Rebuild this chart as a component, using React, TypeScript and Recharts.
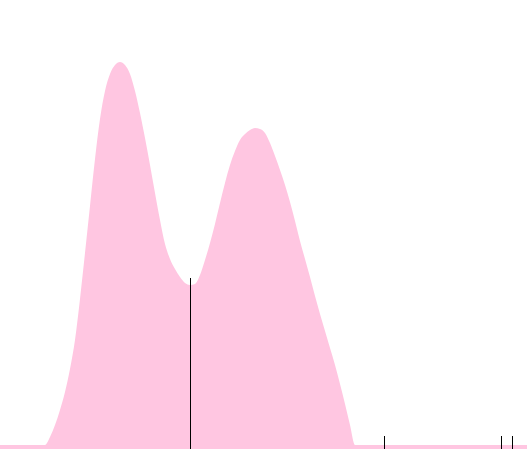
import { AreaChart, Area, XAxis, YAxis, ReferenceLine } from 'recharts';

// density estimate
const xs = [
  0, 0.9, 1.0, 1.1, 1.2, 1.3, 1.4, 1.5, 1.6, 1.7, 1.8, 1.9, 2.0, 2.1, 2.2, 2.3, 2.4, 2.5, 2.6, 2.7, 2.8, 2.9,
  3.0, 3.1, 3.2, 3.3, 3.4, 3.5, 3.6, 3.7, 3.8, 3.9, 4.0, 4.1, 4.2, 4.3, 4.4, 4.5, 4.6, 4.7, 4.8, 4.9,
  5.0, 5.1, 5.2, 5.3, 5.4, 5.5, 5.6, 5.7, 5.8, 5.9, 6.0, 6.1, 6.2, 6.3, 6.4, 6.5, 6.6, 6.7, 6.8, 6.9,
  7.0, 7.1, 10.54,
];
const density = [
  0.004, 0.004, 0.012, 0.024, 0.039, 0.057, 0.08, 0.109, 0.15, 0.196, 0.243, 0.29, 0.33, 0.358, 0.375, 0.384, 0.387, 0.384, 0.375, 0.358, 0.336, 0.311,
  0.284, 0.256, 0.229, 0.205, 0.19, 0.18, 0.172, 0.166, 0.164, 0.165, 0.174, 0.189, 0.206, 0.225, 0.246, 0.266, 0.284, 0.298, 0.309, 0.315,
  0.319, 0.321, 0.32, 0.316, 0.306, 0.293, 0.279, 0.264, 0.247, 0.228, 0.208, 0.19, 0.172, 0.153, 0.135, 0.118, 0.101, 0.084, 0.065, 0.045,
  0.024, 0.004, 0.004,
];

// marker line and rug ticks
const markerX = 3.81;
const markerTop = 0.171;
const rugX = [7.69, 10.03, 10.25];
const rugTop = 0.013;

const data = xs.map((x, i) => ({ x, y: density[i] }));

export default function App() {
  return (
    <div style={{ position: 'absolute', left: 0, top: 0, background: '#fff' }}>
      <AreaChart width={527} height={450} data={data} margin={{ top: 0, right: 0, bottom: 1, left: 0 }}>
        <XAxis dataKey="x" type="number" domain={[0, 10.54]} hide />
        <YAxis type="number" domain={[0, 0.449]} hide />
        <Area
          type="monotone"
          dataKey="y"
          stroke="none"
          fill="#ffc6e1"
          fillOpacity={1}
          isAnimationActive={false}
          dot={false}
          activeDot={false}
        />
        <ReferenceLine
          segment={[{ x: markerX, y: 0 }, { x: markerX, y: markerTop }]}
          stroke="#000"
          strokeWidth={1}
        />
        {rugX.map((rx) => (
          <ReferenceLine
            key={rx}
            segment={[{ x: rx, y: 0 }, { x: rx, y: rugTop }]}
            stroke="#000"
            strokeWidth={1}
          />
        ))}
      </AreaChart>
    </div>
  );
}
